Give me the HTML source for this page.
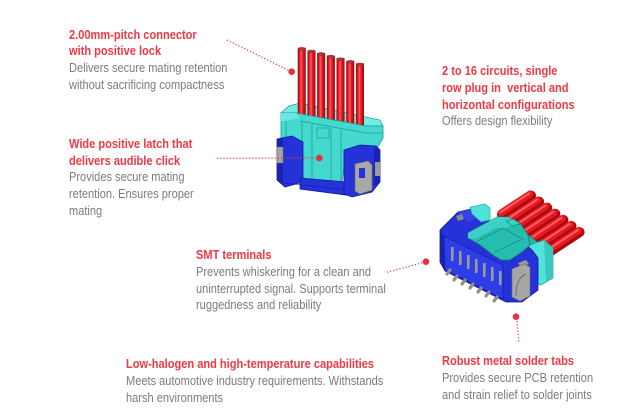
<!DOCTYPE html>
<html>
<head>
<meta charset="utf-8">
<style>
html,body{margin:0;padding:0;background:#fff;}
body{width:620px;height:420px;position:relative;overflow:hidden;font-family:"Liberation Sans",Arial,sans-serif;}
.blk{position:absolute;white-space:nowrap;font-size:13px;line-height:16.7px;transform:scaleX(0.85);transform-origin:0 0;}
.t{color:#ee3a45;font-weight:bold;}
.d{color:#7b7b7b;}
svg{position:absolute;left:0;top:0;}
</style>
</head>
<body>
<svg width="620" height="420" viewBox="0 0 620 420" xmlns="http://www.w3.org/2000/svg">
<defs>
<linearGradient id="tg" x1="0" y1="0" x2="1" y2="0">
<stop offset="0" stop-color="#9a0810"/>
<stop offset="0.2" stop-color="#e41820"/>
<stop offset="0.45" stop-color="#ff5b60"/>
<stop offset="0.65" stop-color="#e41820"/>
<stop offset="1" stop-color="#a00810"/>
</linearGradient>
</defs>

<!-- ===== Connector 1 (vertical) ===== -->
<polygon points="281,113 289,106 300,103 380,120 383,126 366,126 296,113" fill="#74ece6" stroke="#1c9a94" stroke-width="0.7"/>
<g stroke="#8a0810" stroke-width="0.5">
<rect x="298" y="48" width="7.5" height="70" fill="url(#tg)"/>
<rect x="307.7" y="50.6" width="7.5" height="70" fill="url(#tg)"/>
<rect x="317.4" y="53.2" width="7.5" height="70" fill="url(#tg)"/>
<rect x="327.1" y="55.8" width="7.5" height="70" fill="url(#tg)"/>
<rect x="336.8" y="58.4" width="7.5" height="70" fill="url(#tg)"/>
<rect x="346.5" y="61" width="7.5" height="70" fill="url(#tg)"/>
<rect x="356.2" y="63.6" width="7.5" height="70" fill="url(#tg)"/>
</g>
<g fill="#d81018">
<ellipse cx="301.75" cy="48.8" rx="3.75" ry="1.7"/>
<ellipse cx="311.45" cy="51.4" rx="3.75" ry="1.7"/>
<ellipse cx="321.15" cy="54" rx="3.75" ry="1.7"/>
<ellipse cx="330.85" cy="56.6" rx="3.75" ry="1.7"/>
<ellipse cx="340.55" cy="59.2" rx="3.75" ry="1.7"/>
<ellipse cx="350.25" cy="61.8" rx="3.75" ry="1.7"/>
<ellipse cx="359.95" cy="64.4" rx="3.75" ry="1.7"/>
</g>
<g fill="#606060">
<ellipse cx="301.75" cy="48.8" rx="2.3" ry="1"/>
<ellipse cx="311.45" cy="51.4" rx="2.3" ry="1"/>
<ellipse cx="321.15" cy="54" rx="2.3" ry="1"/>
<ellipse cx="330.85" cy="56.6" rx="2.3" ry="1"/>
<ellipse cx="340.55" cy="59.2" rx="2.3" ry="1"/>
<ellipse cx="350.25" cy="61.8" rx="2.3" ry="1"/>
<ellipse cx="359.95" cy="64.4" rx="2.3" ry="1"/>
</g>
<polygon points="281,113 296,113 366,126 383,126 383,138 376,150 346,152 342,182 302,180 300,142 281,142" fill="#45d8cf" stroke="#1c9a94" stroke-width="0.8"/>
<polygon points="281,113 296,113 300,118 286,121 281,121" fill="#6ae8e1"/>
<g stroke="#1c9a94" stroke-width="0.7" fill="none">
<line x1="302" y1="122" x2="302" y2="180"/>
<line x1="312" y1="124" x2="312" y2="180"/>
<line x1="331" y1="128" x2="331" y2="181"/>
<line x1="341" y1="130" x2="341" y2="182"/>
<rect x="317" y="128" width="12" height="10"/>
<line x1="300" y1="121" x2="366" y2="133"/>
<line x1="366" y1="133" x2="383" y2="133"/>
<polyline points="286,121 286,140"/>
</g>
<polygon points="277,139 292,136 303,142 303,182 285,187 277,180" fill="#2532d8" stroke="#10189a" stroke-width="0.8"/>
<polygon points="277,139 283,138 283,184 277,180" fill="#1a22b0"/>
<rect x="277" y="147" width="6" height="16" fill="#a4a4a4" stroke="#707070" stroke-width="0.5"/>
<polygon points="300,178 346,182 346,195 300,189" fill="#2532d8" stroke="#10189a" stroke-width="0.8"/>
<line x1="285" y1="183" x2="346" y2="190" stroke="#10189a" stroke-width="0.6"/>
<polygon points="344,150 360,145 376,146 380,150 380,182 372,192 352,197 344,194" fill="#2532d8" stroke="#10189a" stroke-width="0.8"/>
<polygon points="374,147 380,150 380,182 374,186" fill="#1a22b0"/>
<polygon points="355,164 368,161 372,165 372,190 360,194 355,191" fill="#a8a8a8" stroke="#6e6e6e" stroke-width="0.6"/>
<rect x="359" y="168" width="6" height="10" fill="#2532d8"/>
<rect x="375" y="162" width="5" height="14" fill="#9a9a9a"/>

<!-- ===== Connector 2 (horizontal) ===== -->
<g stroke-linecap="round">
<g>
<line x1="531" y1="195.5" x2="502" y2="214.5" stroke="#a80a12" stroke-width="10"/>
<line x1="530" y1="194" x2="501" y2="213" stroke="#e81820" stroke-width="7"/>
<line x1="529.2" y1="193.4" x2="500.2" y2="212.4" stroke="#ff6266" stroke-width="2"/>
</g>
<g>
<line x1="539.1" y1="201.6" x2="510.1" y2="220.6" stroke="#a80a12" stroke-width="10"/>
<line x1="538.1" y1="200.1" x2="509.1" y2="219.1" stroke="#e81820" stroke-width="7"/>
<line x1="537.3" y1="199.5" x2="508.3" y2="218.5" stroke="#ff6266" stroke-width="2"/>
</g>
<g>
<line x1="547.2" y1="207.7" x2="518.2" y2="226.7" stroke="#a80a12" stroke-width="10"/>
<line x1="546.2" y1="206.2" x2="517.2" y2="225.2" stroke="#e81820" stroke-width="7"/>
<line x1="545.4" y1="205.6" x2="516.4" y2="224.6" stroke="#ff6266" stroke-width="2"/>
</g>
<g>
<line x1="555.3" y1="213.8" x2="526.3" y2="232.8" stroke="#a80a12" stroke-width="10"/>
<line x1="554.3" y1="212.3" x2="525.3" y2="231.3" stroke="#e81820" stroke-width="7"/>
<line x1="553.5" y1="211.7" x2="524.5" y2="230.7" stroke="#ff6266" stroke-width="2"/>
</g>
<g>
<line x1="563.4" y1="219.9" x2="534.4" y2="238.9" stroke="#a80a12" stroke-width="10"/>
<line x1="562.4" y1="218.4" x2="533.4" y2="237.4" stroke="#e81820" stroke-width="7"/>
<line x1="561.6" y1="217.8" x2="532.6" y2="236.8" stroke="#ff6266" stroke-width="2"/>
</g>
<g>
<line x1="571.5" y1="226" x2="542.5" y2="245" stroke="#a80a12" stroke-width="10"/>
<line x1="570.5" y1="224.5" x2="541.5" y2="243.5" stroke="#e81820" stroke-width="7"/>
<line x1="569.7" y1="223.9" x2="540.7" y2="242.9" stroke="#ff6266" stroke-width="2"/>
</g>
<g>
<line x1="579.6" y1="232.1" x2="550.6" y2="251.1" stroke="#a80a12" stroke-width="10"/>
<line x1="578.6" y1="230.6" x2="549.6" y2="249.6" stroke="#e81820" stroke-width="7"/>
<line x1="577.8" y1="230" x2="548.8" y2="249" stroke="#ff6266" stroke-width="2"/>
</g>
</g>
<polygon points="500,216 512,222 540,244 532,252 505,240" fill="#22b8ad" stroke="#137a72" stroke-width="0.6"/>
<polygon points="527,246 544,240 553,248 553,278 541,285 530,281" fill="#4fe3da" stroke="#1c9a94" stroke-width="0.7"/>
<polygon points="544,240 553,248 553,278 546,282" fill="#38c8c0"/>
<polygon points="440,230 458,212 471,209 482,217 520,240 532,250 538,258 538,290 522,302 506,302 445,271 440,262" fill="#2532d8" stroke="#10189a" stroke-width="0.8"/>
<polygon points="444,236 503,265 503,299 445,270" fill="#2d3ee6" stroke="#10189a" stroke-width="0.6"/>
<polygon points="440,230 444,236 445,270 440,262" fill="#1a22b0"/>
<polygon points="458,212 471,209 482,217 468,222" fill="#3442ea"/>
<g fill="#9a9a9a">
<rect x="451" y="247" width="2.6" height="14"/>
<rect x="459" y="251" width="2.6" height="14"/>
<rect x="467" y="255" width="2.6" height="14"/>
<rect x="475" y="259" width="2.6" height="14"/>
<rect x="483" y="263" width="2.6" height="14"/>
<rect x="491" y="267" width="2.6" height="14"/>
<rect x="499" y="271" width="2.6" height="14"/>
</g>
<g stroke="#8e8e8e" stroke-width="3.2" stroke-linecap="round">
<line x1="450" y1="270" x2="447" y2="274"/>
<line x1="457" y1="276" x2="454" y2="280"/>
<line x1="465" y1="280" x2="462" y2="284"/>
<line x1="473" y1="284" x2="470" y2="288"/>
<line x1="481" y1="288" x2="478" y2="292"/>
<line x1="489" y1="292" x2="486" y2="296"/>
<line x1="497" y1="297" x2="494" y2="301"/>
</g>
<polygon points="468,233 497,217 508,217 520,223 528,235 530,245 522,252 510,260 501,260 493,255 480,245 468,238" fill="#26bdb1" stroke="#137a72" stroke-width="0.8"/>
<polygon points="468,233 497,217 508,217 520,223 505,228 496,228 475,239 468,238" fill="#3fd0c5"/>
<g stroke="#137a72" stroke-width="0.6" fill="none">
<line x1="476" y1="242" x2="503" y2="228"/>
<line x1="503" y1="228" x2="524" y2="240"/>
<polyline points="506,221 514,219 520,224 512,226 506,221"/>
<line x1="495" y1="252" x2="520" y2="240"/>
</g>
<polygon points="470,207 485,204 490,208 490,220 481,222 472,214" fill="#4fe3da" stroke="#1c9a94" stroke-width="0.6"/>
<polygon points="456,216 462,214 464,219 458,221" fill="#8a8a8a"/>
<polygon points="518,263 526,260 529,264 521,267" fill="#9a9a9a"/>
<polygon points="512,269 524,264 530,267 530,296 520,301 512,297" fill="#a6a6a6" stroke="#6e6e6e" stroke-width="0.6"/>
<path d="M516,296 Q516,278 526,274" fill="none" stroke="#707070" stroke-width="1"/>

<!-- ===== Leader lines ===== -->
<g stroke="#e8404a" stroke-width="1.3" stroke-dasharray="1.2 2" fill="none">
<line x1="227" y1="40" x2="291" y2="71.5"/>
<line x1="217" y1="158.3" x2="318" y2="158"/>
<line x1="387" y1="272.3" x2="425" y2="262"/>
<line x1="516.5" y1="318" x2="519" y2="342"/>
</g>
<g fill="#e8303c">
<circle cx="291.7" cy="71.7" r="3.3"/>
<circle cx="319.3" cy="158" r="3.3"/>
<circle cx="426" cy="261.7" r="3.3"/>
<circle cx="516" cy="316.7" r="3.3"/>
</g>
</svg>

<div class="blk" style="left:68.5px;top:26.5px;"><div class="t">2.00mm-pitch connector</div><div class="t">with positive lock</div><div class="d">Delivers secure mating retention</div><div class="d">without sacrificing compactness</div></div>

<div class="blk" style="left:68.5px;top:135.8px;"><div class="t">Wide positive latch that</div><div class="t">delivers audible click</div><div class="d">Provides secure mating</div><div class="d">retention. Ensures proper</div><div class="d">mating</div></div>

<div class="blk" style="left:441.5px;top:63.1px;"><div class="t">2 to 16 circuits, single</div><div class="t">row plug in&nbsp; vertical and</div><div class="t">horizontal configurations</div><div class="d">Offers design flexibility</div></div>

<div class="blk" style="left:195.5px;top:247.1px;"><div class="t">SMT terminals</div><div class="d">Prevents whiskering for a clean and</div><div class="d">uninterrupted signal. Supports terminal</div><div class="d">ruggedness and reliability</div></div>

<div class="blk" style="left:125.5px;top:356.4px;"><div class="t">Low-halogen and high-temperature capabilities</div><div class="d">Meets automotive industry requirements. Withstands</div><div class="d">harsh environments</div></div>

<div class="blk" style="left:441.5px;top:353.1px;"><div class="t">Robust metal solder tabs</div><div class="d">Provides secure PCB retention</div><div class="d">and strain relief to solder joints</div></div>
</body>
</html>
